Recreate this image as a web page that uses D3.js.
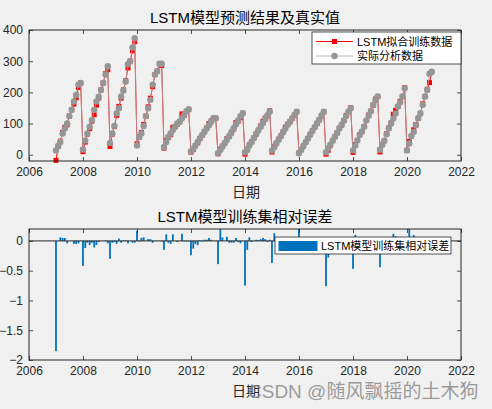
<!DOCTYPE html>
<html><head><meta charset="utf-8">
<script src="https://cdn.jsdelivr.net/npm/d3@7"></script>
<style>
body{margin:0;background:#f0f0f0;}
text{font-family:"Liberation Sans",Arial,"Noto Sans CJK SC",sans-serif;}
</style></head>
<body><svg id="c" width="492" height="409"></svg>
<script>
// ---- data (monthly, Jan 2007 .. Dec 2020) ----
const startYear = 2007;
const actual = [
 14,28,41,68,84,100,124,144,171,192,225,230,
 17,46,68,90,111,144,171,186,208,230,257,284,
 38,68,92,133,149,187,206,235,290,300,344,374,
 30,57,68,92,124,149,176,225,257,268,292,292,
 25,41,57,68,79,90,100,106,117,128,140,146,
 11,19,30,41,52,63,73,84,95,106,117,117,
 5,15,26,37,48,60,72,85,98,110,124,133,
 8,18,30,42,54,66,78,90,102,114,127,138,
 14,24,36,48,60,72,84,96,106,116,128,138,
 5,16,28,40,52,64,76,88,100,112,126,138,
 8,20,32,45,58,70,84,96,110,124,138,149,
 14,30,46,63,75,90,110,125,140,160,175,187,
 16,32,45,66,85,100,116,132,155,168,187,213,
 14,36,60,73,95,117,133,160,187,208,260,266
];
const predicted = [
 -18,28,43.5,71.4,88.2,96,124,144,162.5,182.4,216,230,
 9.9,40.5,66,83.7,107.7,128.2,159,182.3,208,230,259.6,272.6,
 26.6,66,90.2,126.4,155,181.4,208,237.4,278.4,300,333.7,362.8,
 35.1,56.4,71.4,97.5,124,153.5,181.3,218.3,257,268,292,286,
 21.3,45.5,55.3,64.6,87.7,90,98,106,131,126.7,138.6,144.5,
 8.4,16.5,28.5,38.1,52.5,62.4,74.5,85.7,99.8,108.1,117,117,
 3.1,18,27.6,37,51.4,58.2,69.8,82.5,102.9,107.8,119,133,
 2,15.3,31.8,41.2,54,67.3,78.8,92.7,107.1,117.4,124.5,140.8,
 8.8,27.1,37.1,50.4,60,73.4,88.2,97.9,106,117.2,126.7,138,
 6,16,27.4,40,52.5,65.9,77.5,88,101,112,124.7,138,
 1.9,14.4,30.4,45.9,58,70.7,85.7,95,110,126.5,138,150.5,
 7.4,33,46,64.3,73.5,90.9,110,127.5,140,158.4,178.5,187,
 9,32.6,45,68,85.9,102,129.9,142.6,155,171.4,187,215,
 14.3,43.2,60,80.3,96.9,117,131.7,163.2,187,210,231.4,266
];
const relError = [
 -1.85,0.0,0.06,0.05,0.05,-0.04,0.0,0.0,-0.05,-0.05,-0.04,0.0,
 -0.42,-0.12,-0.03,-0.07,-0.03,-0.11,-0.07,-0.02,0.0,0.0,0.01,-0.04,
 -0.30,-0.03,-0.02,-0.05,0.04,-0.03,0.01,0.01,-0.04,0.0,-0.03,-0.03,
 0.17,-0.01,0.05,0.06,0.0,0.03,0.03,-0.03,0.0,0.0,0.0,-0.01,
 -0.15,0.11,-0.03,-0.05,0.11,0.0,-0.02,0.0,0.12,-0.01,-0.01,-0.01,
 -0.24,-0.13,-0.05,-0.07,0.01,-0.01,0.02,0.02,0.05,0.02,0.0,0.0,
 -0.39,0.2,0.06,0.0,0.07,-0.03,-0.03,-0.03,0.05,-0.02,-0.04,0.0,
 -0.75,-0.15,0.06,-0.02,0.0,0.02,0.01,0.03,0.05,0.03,-0.02,0.02,
 -0.37,0.13,0.03,0.05,0.0,0.02,0.05,0.02,0.0,0.01,-0.01,0.0,
 0.2,0.0,-0.02,0.0,0.01,0.03,0.02,0.0,0.01,0.0,-0.01,0.0,
 -0.76,-0.28,-0.05,0.02,0.0,0.01,0.02,-0.01,0.0,0.02,0.0,0.01,
 -0.47,0.1,0.0,0.02,-0.02,0.01,0.0,0.02,0.0,-0.01,0.02,0.0,
 -0.44,0.02,0.0,0.03,0.01,0.02,0.12,0.08,0.0,0.02,0.0,0.01,
 0.02,0.2,0.0,0.1,0.02,0.0,-0.01,0.02,0.0,0.01,-0.11,0.0
];
const xTickYears = [2006,2008,2010,2012,2014,2016,2018,2020,2022];
const yTicksTop = [0,100,200,300,400];
const yTicksBottom = [-2,-1.5,-1,-0.5,0];
const titleTop = "LSTM模型预测结果及真实值";
const titleBottom = "LSTM模型训练集相对误差";
const xLabel = "日期";
const legendTop = ["LSTM拟合训练数据","实际分析数据"];
const legendBottom = "LSTM模型训练集相对误差";

const dates = actual.map((_, i) => new Date(startYear + Math.floor(i/12), i%12, 1));

const svg = d3.select("#c");
const AX = "#262626";
const L = 29, R = 461;
const x = d3.scaleTime().domain([new Date(2006,0,1), new Date(2022,0,1)]).range([L, R]);
const xTickDates = xTickYears.map(y => new Date(y,0,1));

function frame(g, y, top, bottom, yTicks, yFmt) {
  g.append("rect").attr("x", L).attr("y", top).attr("width", R-L).attr("height", bottom-top)
    .attr("fill", "#fff");
}
function axes(g, y, top, bottom, yTicks, yFmt) {
  const tl = 4;
  const gb = g.append("g").attr("transform", `translate(0,${bottom})`)
    .call(d3.axisBottom(x).tickValues(xTickDates).tickFormat(d3.timeFormat("%Y")).tickSizeInner(-tl).tickSizeOuter(0).tickPadding(6));
  const gt = g.append("g").attr("transform", `translate(0,${top})`)
    .call(d3.axisTop(x).tickValues(xTickDates).tickFormat("").tickSizeInner(-tl).tickSizeOuter(0));
  const gl = g.append("g").attr("transform", `translate(${L},0)`)
    .call(d3.axisLeft(y).tickValues(yTicks).tickFormat(yFmt).tickSizeInner(-tl).tickSizeOuter(0).tickPadding(6));
  const gr = g.append("g").attr("transform", `translate(${R},0)`)
    .call(d3.axisRight(y).tickValues(yTicks).tickFormat("").tickSizeInner(-tl).tickSizeOuter(0));
  [gb, gt, gl, gr].forEach(a => {
    a.select(".domain").remove();
    a.selectAll("line").attr("stroke", AX).attr("stroke-width", 0.8);
    a.selectAll("text").attr("fill", AX).style("font-size", "12px")
      .style("font-family", '"Liberation Sans",Arial,sans-serif');
  });
  g.append("rect").attr("x", L).attr("y", top).attr("width", R-L).attr("height", bottom-top)
    .attr("fill", "none").attr("stroke", AX).attr("stroke-width", 1);
}

// ---------- top chart ----------
const T1 = 30, B1 = 161;
const y1 = d3.scaleLinear().domain([-20, 400]).range([B1, T1]);
const g1 = svg.append("g");
frame(g1);
svg.append("defs").append("clipPath").attr("id","clip1").append("rect")
  .attr("x", L).attr("y", T1-4).attr("width", R-L).attr("height", B1-T1+8);
const p1 = g1.append("g").attr("clip-path","url(#clip1)");
const lineP = d3.line().x((d,i) => x(dates[i])).y(d => y1(d));
p1.append("path").datum(predicted).attr("d", lineP).attr("fill","none")
  .attr("stroke","#ff0000").attr("stroke-width",1);
p1.selectAll("rect.pm").data(predicted).join("rect").attr("class","pm")
  .attr("x",(d,i)=>x(dates[i])-2.5).attr("y",d=>y1(d)-2.5).attr("width",5).attr("height",5)
  .attr("fill","#ff0000");
p1.append("path").datum(actual).attr("d", lineP).attr("fill","none")
  .attr("stroke","#a8a8a8").attr("stroke-width",0.8);
p1.selectAll("circle").data(actual).join("circle")
  .attr("cx",(d,i)=>x(dates[i])).attr("cy",d=>y1(d)).attr("r",3.2)
  .attr("fill","#969696");
axes(g1, y1, T1, B1, yTicksTop, d3.format("d"));

svg.append("text").attr("x",245).attr("y",23).attr("text-anchor","middle")
  .style("font-size","15px").attr("fill","#000").text(titleTop);
svg.append("text").attr("x",246).attr("y",197).attr("text-anchor","middle")
  .style("font-size","14px").attr("fill",AX).text(xLabel);

// legend top
const lg = svg.append("g");
lg.append("rect").attr("x",312).attr("y",32).attr("width",149).attr("height",32)
  .attr("fill","#fff").attr("stroke",AX).attr("stroke-width",0.8);
lg.append("line").attr("x1",316).attr("x2",353).attr("y1",41.5).attr("y2",41.5)
  .attr("stroke","#ff0000").attr("stroke-width",1);
lg.append("rect").attr("x",332).attr("y",39).attr("width",5).attr("height",5).attr("fill","#ff0000");
lg.append("line").attr("x1",316).attr("x2",353).attr("y1",56).attr("y2",56)
  .attr("stroke","#a8a8a8").attr("stroke-width",0.8);
lg.append("circle").attr("cx",334.5).attr("cy",56).attr("r",3.2).attr("fill","#969696");
lg.append("text").attr("x",357).attr("y",45.5).style("font-size","11px").attr("fill","#000").text(legendTop[0]);
lg.append("text").attr("x",357).attr("y",60).style("font-size","11px").attr("fill","#000").text(legendTop[1]);

// ---------- bottom chart ----------
const T2 = 229, B2 = 360;
const y2 = d3.scaleLinear().domain([-2, 0.2]).range([B2, T2]);
const g2 = svg.append("g");
frame(g2);
svg.select("defs").append("clipPath").attr("id","clip2").append("rect")
  .attr("x", L).attr("y", T2).attr("width", R-L).attr("height", B2-T2);
const p2 = g2.append("g").attr("clip-path","url(#clip2)");
p2.selectAll("rect").data(relError).join("rect")
  .attr("x",(d,i)=>x(dates[i])-0.9).attr("width",1.8)
  .attr("y",d=>Math.min(y2(d),y2(0))).attr("height",d=>Math.abs(y2(d)-y2(0)))
  .attr("fill","#0072BD");
g2.append("line").attr("x1",L).attr("x2",R).attr("y1",y2(0)).attr("y2",y2(0))
  .attr("stroke",AX).attr("stroke-width",1);
axes(g2, y2, T2, B2, yTicksBottom, d => d === 0 ? "0" : d3.format("")(d));

svg.append("text").attr("x",245).attr("y",222).attr("text-anchor","middle")
  .style("font-size","15px").attr("fill","#000").text(titleBottom);
svg.append("text").attr("x",246).attr("y",396).attr("text-anchor","middle")
  .style("font-size","14px").attr("fill",AX).text(xLabel);

const lg2 = svg.append("g");
lg2.append("rect").attr("x",275).attr("y",237).attr("width",176).attr("height",17)
  .attr("fill","#fff").attr("stroke",AX).attr("stroke-width",0.8);
lg2.append("rect").attr("x",278.5).attr("y",241).attr("width",39).attr("height",10).attr("fill","#0072BD");
lg2.append("text").attr("x",321).attr("y",249.5).style("font-size","11px").attr("fill","#000").text(legendBottom);

// watermark
svg.append("text").attr("x",248).attr("y",398).style("font-size","19px")
  .attr("fill","#8a8a8a").attr("fill-opacity",0.85).text("CSDN @随风飘摇的土木狗");
</script></body></html>
